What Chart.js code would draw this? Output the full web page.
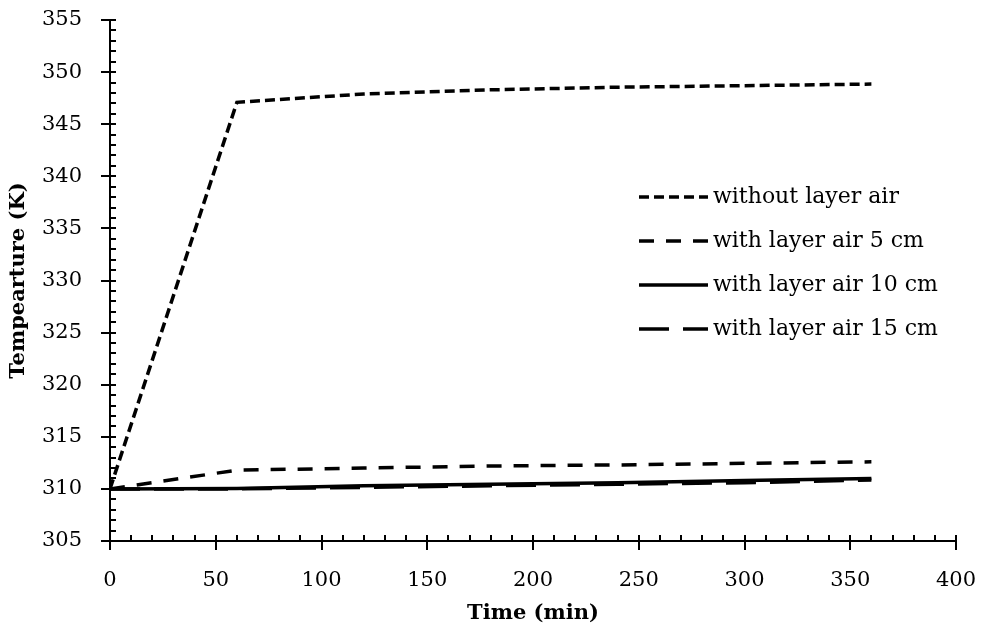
<!DOCTYPE html>
<html>
<head>
<meta charset="utf-8">
<script src="https://cdn.jsdelivr.net/npm/chart.js@4.4.1/dist/chart.umd.min.js"></script>
<style>
  html, body { margin: 0; padding: 0; background: #fff; }
  #wrap { width: 991px; height: 632px; }
</style>
</head>
<body>
<div id="wrap"><canvas id="tempChart" width="991" height="632"></canvas></div>
<script>
// time steps (min)
const timeMin = [0, 60, 120, 180, 240, 300, 360];

// temperatures (K)
const noLayerAir = [310, 347.1, 347.9, 348.3, 348.55, 348.7, 348.85];
const layerAir5 = [310, 311.8, 312.0, 312.2, 312.3, 312.45, 312.6];
const layerAir10 = [310, 310.05, 310.3, 310.45, 310.6, 310.8, 311.0];
const layerAir15 = [310, 310.0, 310.15, 310.3, 310.45, 310.6, 310.85];

const seriesNames = [
  "without layer air",
  "with layer air 5 cm",
  "with layer air 10 cm",
  "with layer air 15 cm"
];
const seriesDash = [[10, 5], [15, 12], [], [30, 14]];

const FONT = "'DejaVu Serif', 'Liberation Serif', serif";

const toPoints = (values) => timeMin.map((t, i) => ({ x: t, y: values[i] }));

const datasets = [noLayerAir, layerAir5, layerAir10, layerAir15].map((vals, i) => ({
  label: seriesNames[i],
  data: toPoints(vals),
  borderColor: "#000",
  borderWidth: 3.5,
  borderDash: seriesDash[i],
  borderCapStyle: "butt",
  pointRadius: 0,
  tension: 0,
  fill: false
}));

// small ticks on the inside of both axes
const innerTicks = {
  id: "innerTicks",
  afterDatasetsDraw(chart) {
    const ctx = chart.ctx;
    const xs = chart.scales.x;
    const ys = chart.scales.y;
    const area = chart.chartArea;
    ctx.save();
    ctx.strokeStyle = "#000";
    ctx.lineWidth = 2;
    ctx.beginPath();
    for (let v = xs.min; v <= xs.max; v += 10) {
      const px = Math.round(xs.getPixelForValue(v));
      ctx.moveTo(px, area.bottom);
      ctx.lineTo(px, area.bottom - 6);
    }
    for (let v = ys.min; v <= ys.max; v += 1) {
      const py = Math.round(ys.getPixelForValue(v));
      ctx.moveTo(area.left, py);
      ctx.lineTo(area.left + 6, py);
    }
    ctx.stroke();
    ctx.restore();
  }
};

// legend inside the plot, lines + labels
const lineLegend = {
  id: "lineLegend",
  afterDraw(chart) {
    const ctx = chart.ctx;
    const rows = [197, 241, 285, 329];
    ctx.save();
    ctx.font = "22px " + FONT;
    ctx.textBaseline = "middle";
    ctx.fillStyle = "#000";
    chart.data.datasets.forEach((ds, i) => {
      const y = rows[i];
      ctx.beginPath();
      ctx.strokeStyle = "#000";
      ctx.lineWidth = 3.5;
      ctx.setLineDash(ds.borderDash);
      ctx.moveTo(639, y);
      ctx.lineTo(708, y);
      ctx.stroke();
      ctx.setLineDash([]);
      ctx.fillText(ds.label, 713, y);
    });
    ctx.restore();
  }
};

const chartTemp = new Chart(document.getElementById("tempChart"), {
  type: "line",
  data: { datasets: datasets },
  options: {
    responsive: false,
    animation: false,
    layout: { padding: { top: 20, right: 35, left: 0, bottom: 0 } },
    plugins: { legend: { display: false }, tooltip: { enabled: false } },
    scales: {
      x: {
        type: "linear",
        min: 0,
        max: 400,
        afterFit: (s) => { s.height = 91; s.paddingLeft = 0; s.paddingRight = 0; },
        ticks: { stepSize: 50, color: "#000", padding: 18, font: { family: FONT, size: 21 } },
        grid: { drawOnChartArea: false, color: "#000", lineWidth: 2, tickLength: 9 },
        border: { color: "#000", width: 2 },
        title: {
          display: true,
          text: "Time (min)",
          color: "#000",
          font: { family: FONT, size: 21, weight: "bold" },
          padding: { top: 0, bottom: 6 }
        }
      },
      y: {
        type: "linear",
        min: 305,
        max: 355,
        afterFit: (s) => { s.width = 110; s.paddingTop = 0; s.paddingBottom = 0; },
        ticks: { stepSize: 5, color: "#000", padding: 19, font: { family: FONT, size: 21 } },
        grid: { drawOnChartArea: false, color: "#000", lineWidth: 2, tickLength: 9 },
        border: { color: "#000", width: 2 },
        title: {
          display: true,
          text: "Tempearture (K)",
          color: "#000",
          font: { family: FONT, size: 21, weight: "bold" },
          padding: { top: 6, bottom: 0 }
        }
      }
    }
  },
  plugins: [innerTicks, lineLegend]
});
</script>
</body>
</html>
